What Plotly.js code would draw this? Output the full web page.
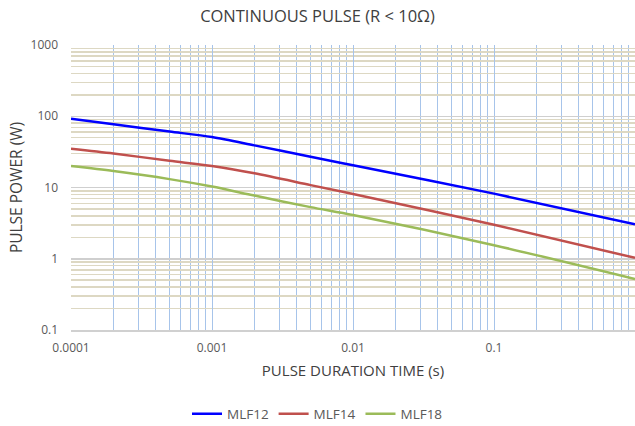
<!DOCTYPE html>
<html>
<head>
<meta charset="utf-8">
<script src="https://cdn.plot.ly/plotly-3.0.1.min.js"></script>
<style>html,body{margin:0;padding:0;background:#fff}#chart{width:635px;height:426px}</style>
</head>
<body>
<div id="chart"></div>
<script>
// Data
const pulseTime = [0.0001, 0.0002, 0.0005, 0.001, 0.002, 0.005, 0.01, 0.1, 1];
const mlf12 = [92, 77, 61, 51, 39, 27, 20.5, 8.2, 3.05];
const mlf14 = [35, 30, 23.7, 20, 15.8, 10.8, 8.1, 3.0, 1.03];
const mlf18 = [20, 17, 13.1, 10.3, 7.7, 5.3, 4.1, 1.55, 0.52];
const seriesNames = ['MLF12', 'MLF14', 'MLF18'];
const xTickVals = [0.0001, 0.001, 0.01, 0.1, 1];
const xTickText = ['0.0001', '0.001', '0.01', '0.1', '1'];
const yTickVals = [0.1, 1, 10, 100, 1000];
const yTickText = ['0.1', '1', '10', '100', '1000'];

const colors = ['#0000ff', '#c0504d', '#9bbb59'];
const ys = [mlf12, mlf14, mlf18];
const FONT = '"Open Sans", Lato, sans-serif';

const traces = ys.map((y, i) => ({
  x: pulseTime, y: y, name: seriesNames[i], type: 'scatter', mode: 'lines',
  line: {color: colors[i], width: 2.5, shape: 'spline', smoothing: 0.8}
}));

const layout = {
  width: 635, height: 426,
  margin: {l: 71, r: 0, t: 45, b: 96},
  paper_bgcolor: '#fff', plot_bgcolor: '#fff',
  font: {family: FONT, color: '#595959', size: 12},
  title: {text: 'CONTINUOUS PULSE (R < 10Ω)', font: {family: FONT, size: 16.5, color: '#404040'},
          x: 0.5, xref: 'container', xanchor: 'center', y: 1 - 16/426, yref: 'container', yanchor: 'middle'},
  xaxis: {
    type: 'log', range: [-4, 0], tickmode: 'array', tickvals: xTickVals, ticktext: xTickText,
    showgrid: true, gridcolor: '#a7c4ea', gridwidth: 1,
    minor: {dtick: 'D1', showgrid: true, gridcolor: '#a7c4ea', gridwidth: 1, ticks: ''},
    showline: true, linecolor: '#d0d0d0', linewidth: 1.5, zeroline: false,
    ticks: '', ticklabelstandoff: 6,
    tickfont: {family: FONT, size: 12, color: '#595959'},
    title: {text: 'PULSE DURATION TIME (s)', font: {family: FONT, size: 15, color: '#404040'}, standoff: 10},
    automargin: false
  },
  yaxis: {
    type: 'log', range: [-1, 3], tickmode: 'array', tickvals: yTickVals, ticktext: yTickText,
    showgrid: true, gridcolor: '#cfcfcf', gridwidth: 1.5,
    minor: {dtick: 'D1', showgrid: true, gridcolor: '#ddd8c3', gridwidth: 1.5, ticks: ''},
    showline: false, zeroline: false, ticks: '', ticklabelstandoff: 12,
    tickfont: {family: FONT, size: 12, color: '#595959'},
    title: {text: 'PULSE POWER (W)', font: {family: FONT, size: 15.5, color: '#404040'}, standoff: 4},
    automargin: false
  },
  showlegend: true,
  legend: {orientation: 'h', xref: 'container', x: 0.5, xanchor: 'center',
           yref: 'container', y: 1 - 414/426, yanchor: 'middle',
           font: {family: FONT, size: 13.5, color: '#595959'}, traceorder: 'normal', itemwidth: 30}
};

Plotly.newPlot('chart', traces, layout, {displayModeBar: false, staticPlot: true});
</script>
</body>
</html>
